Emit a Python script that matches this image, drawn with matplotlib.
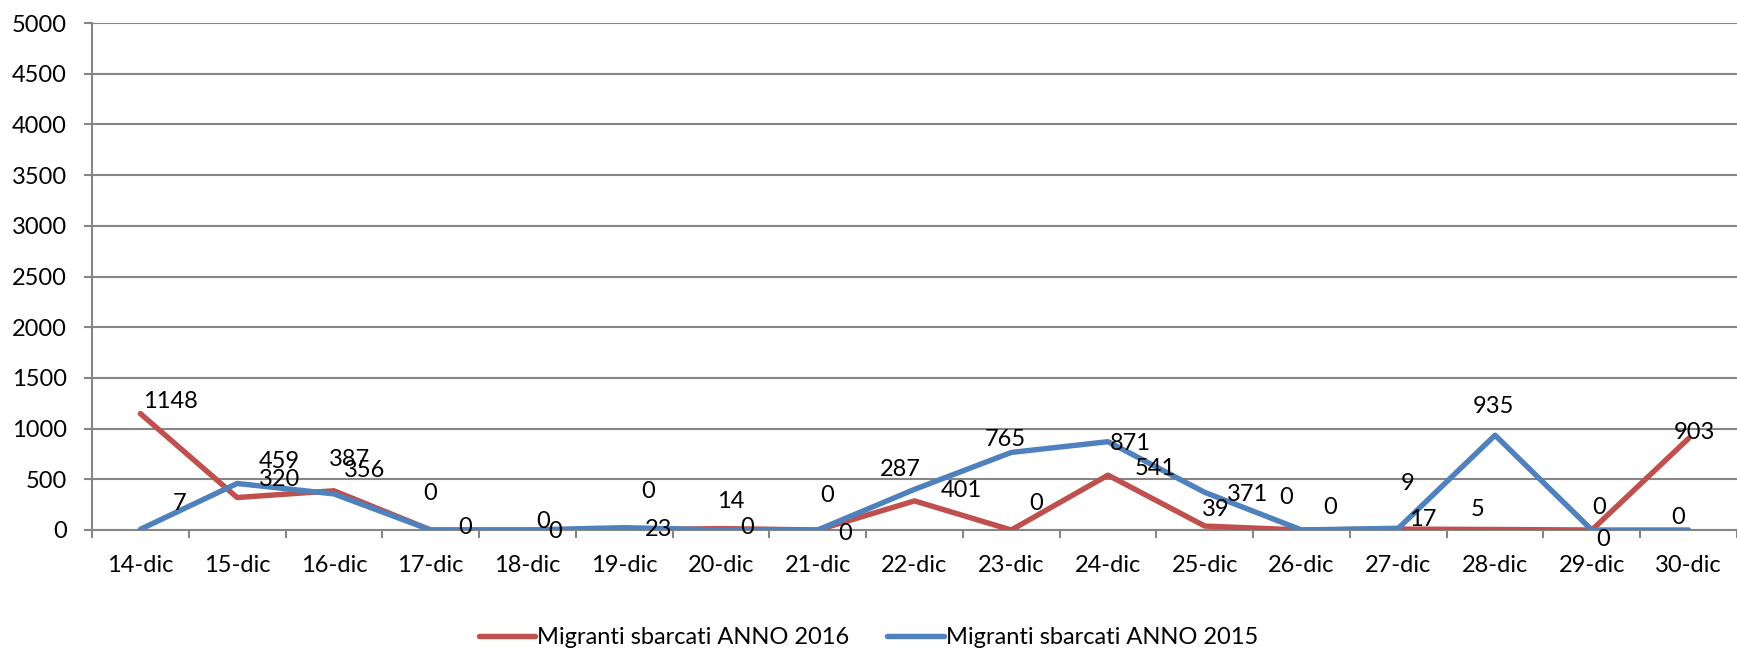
import matplotlib
matplotlib.use("Agg")
import matplotlib.pyplot as plt
from matplotlib.ticker import MultipleLocator, FixedLocator

plt.rcParams['font.family'] = ['Lato', 'DejaVu Sans']

days = ["14-dic", "15-dic", "16-dic", "17-dic", "18-dic", "19-dic", "20-dic", "21-dic",
        "22-dic", "23-dic", "24-dic", "25-dic", "26-dic", "27-dic", "28-dic", "29-dic", "30-dic"]
sbarcati_2016 = [1148, 320, 387, 0, 0, 0, 14, 0, 287, 0, 541, 39, 0, 9, 5, 0, 903]
sbarcati_2015 = [7, 459, 356, 0, 0, 23, 0, 0, 401, 765, 871, 371, 0, 17, 935, 0, 0]

# label offsets in pixels (dx, dy up), labels were moved by hand
off_2016 = [(30, 12), (42, 18), (16, 31), (-1, 36), (16, 8), (24, 38), (10, 27), (9, 35),
            (-14, 31), (25, 26), (47, 7), (11, 17), (-15, 33), (9, 46), (-18, 20), (7, 22), (6, 6)]
off_2015 = [(39, 26), (42, 22), (31, 23), (34, 2), (28, -2), (34, -2), (26, 3), (27, -3),
            (47, -1), (-6, 13), (22, -2), (43, -2), (29, 22), (24, 9), (-2, 29), (11, -10), (-10, 13)]

red = "#C0504D"
blue = "#4F81BD"
grid_col = "#868686"
fs = 17

fig = plt.figure(figsize=(17.37, 6.52), dpi=100)
ax = fig.add_axes([92 / 1737, 1 - 530 / 652, (1737 - 92) / 1737, (530 - 23) / 652])

x = list(range(len(days)))
l1, = ax.plot(x, sbarcati_2016, color=red, lw=3.9, solid_capstyle="round",
              solid_joinstyle="round", label="Migranti sbarcati ANNO 2016", zorder=3)
l2, = ax.plot(x, sbarcati_2015, color=blue, lw=3.9, solid_capstyle="round",
              solid_joinstyle="round", label="Migranti sbarcati ANNO 2015", zorder=4)

for i in x:
    ax.annotate(str(sbarcati_2016[i]), (i, sbarcati_2016[i]), xytext=off_2016[i],
                textcoords="offset pixels", ha="center", va="center", fontsize=fs, zorder=5)
    ax.annotate(str(sbarcati_2015[i]), (i, sbarcati_2015[i]), xytext=off_2015[i],
                textcoords="offset pixels", ha="center", va="center", fontsize=fs, zorder=5)

ax.set_xlim(-0.5, len(days) - 0.5)
ax.set_ylim(0, 5000)
ax.yaxis.set_major_locator(MultipleLocator(500))
ax.grid(axis="y", color=grid_col, lw=1.5, zorder=0)
ax.set_axisbelow(True)

ax.set_xticks(x)
ax.set_xticklabels(days)
ax.xaxis.set_minor_locator(FixedLocator([i - 0.5 for i in range(len(days) + 1)]))
ax.tick_params(axis="x", which="major", length=0, pad=18, labelsize=fs)
ax.tick_params(axis="x", which="minor", length=6, width=1.5, color=grid_col, direction="out")
ax.tick_params(axis="y", length=6, width=1.5, color=grid_col, pad=12, labelsize=fs)

for s in ["top", "right"]:
    ax.spines[s].set_visible(False)
ax.spines["left"].set_color(grid_col)
ax.spines["left"].set_linewidth(1.5)
ax.spines["bottom"].set_color(grid_col)
ax.spines["bottom"].set_linewidth(1.5)

fig.legend(handles=[l1, l2], loc="center", bbox_to_anchor=(0.5, 1 - 638 / 652), ncol=2,
           frameon=False, fontsize=fs, handlelength=2.4, handletextpad=0.08, columnspacing=1.6)

fig.savefig("out.png", dpi=100)
